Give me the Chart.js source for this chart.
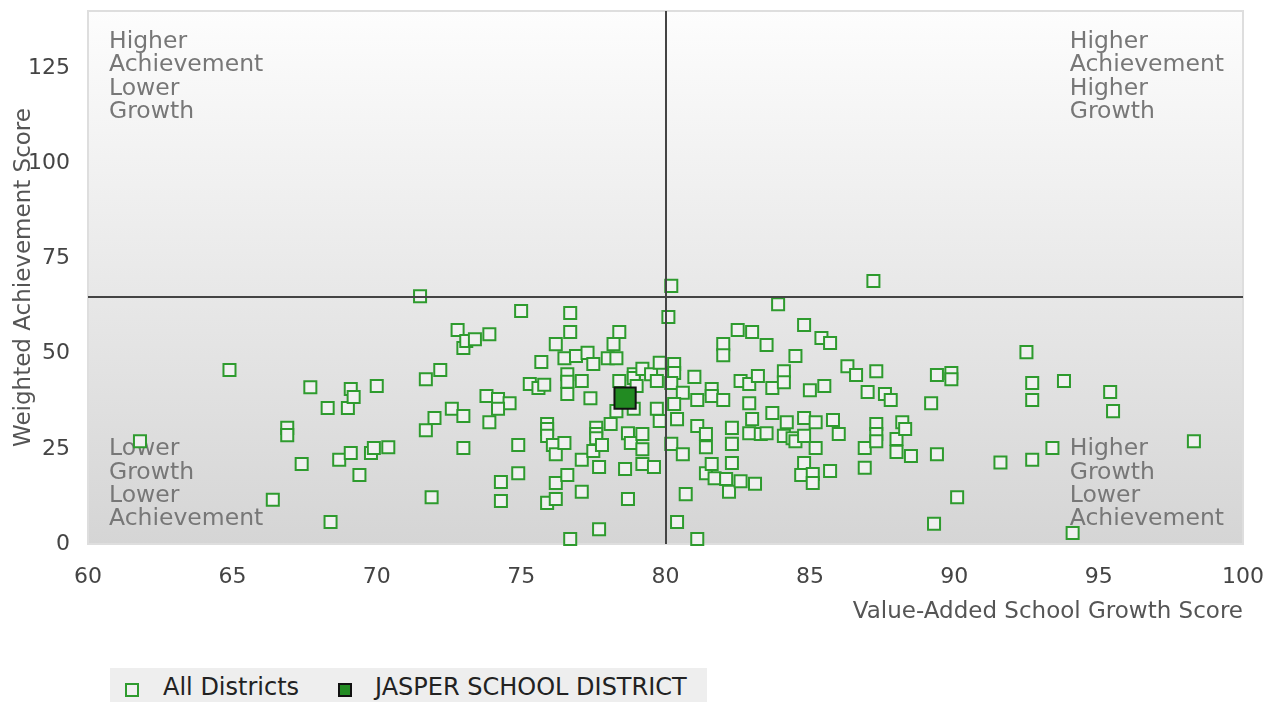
<!DOCTYPE html>
<html>
<head>
<meta charset="utf-8">
<script src="https://cdn.jsdelivr.net/npm/chart.js@4.4.0/dist/chart.umd.min.js"></script>
<style>
  body { margin: 0; background: #fff; font-family: "DejaVu Sans", sans-serif; }
  #wrap { position: relative; width: 1271px; height: 702px; overflow: hidden; }
  #box { position: absolute; left: 0; top: -6px; width: 1271px; height: 654px; }
  #legend { position: absolute; left: 110px; top: 668px; width: 597px; height: 40px; background: #eeeeee; font-size: 24px; color: #222; }
  #legend .sw { position: absolute; top: 15px; width: 10px; height: 10px; }
  #legend .lbl { position: absolute; top: 5px; white-space: nowrap; }
</style>
</head>
<body>
<div id="wrap">
  <div id="box"><canvas id="chart"></canvas></div>
  <div id="legend">
    <span class="sw" style="left:15px; border:2px solid #2e9b2e; background:#f0f0f0;"></span>
    <span class="lbl" style="left:53px;">All Districts</span>
    <span class="sw" style="left:228px; border:2px solid #111; background:#228b22;"></span>
    <span class="lbl" style="left:265px;">JASPER SCHOOL DISTRICT</span>
  </div>
</div>
<script>
// values
const growthScores = [
  61.8, 64.9, 66.4, 66.9, 66.9, 67.4, 67.7, 68.3, 68.4, 68.7,
  69.0, 69.1, 69.2, 69.1, 69.4, 69.8, 69.9, 70.0, 70.4, 71.5,
  71.7, 71.7, 71.9, 72.0, 72.2, 72.6, 72.8, 73.0, 73.1, 73.4,
  73.9, 73.0, 73.0, 73.8, 74.2, 74.6, 74.2, 73.9, 74.3, 74.3,
  74.9, 74.9, 75.0, 75.3, 75.6, 75.8, 75.7, 75.9, 75.9, 75.9,
  75.9, 76.1, 76.2, 76.2, 76.2, 76.2, 76.5, 76.5, 76.6, 76.6,
  76.6, 76.6, 76.7, 76.7, 76.7, 76.9, 77.1, 77.1, 77.1, 77.3,
  77.4, 77.5, 77.5, 77.6, 77.6, 77.6, 77.7, 77.7, 77.8, 78.0,
  78.1, 78.2, 78.3, 78.3, 78.4, 78.4, 78.6, 78.7, 78.7, 78.8,
  78.9, 78.9, 78.9, 79.0, 79.2, 79.2, 79.2, 79.2, 79.5, 79.6,
  79.7, 79.7, 79.8, 79.8, 80.2, 80.1, 80.3, 80.3, 80.2, 80.6,
  80.3, 80.4, 80.2, 80.6, 80.7, 80.4, 81.0, 81.1, 81.1, 81.1,
  81.4, 81.4, 81.4, 81.6, 81.6, 81.6, 81.7, 82.0, 82.0, 82.0,
  82.1, 82.2, 82.3, 82.3, 82.3, 82.5, 82.6, 82.6, 82.9, 82.9,
  82.9, 83.0, 83.0, 83.1, 83.2, 83.3, 83.5, 83.5, 83.7, 83.7,
  83.9, 84.1, 84.1, 84.1, 84.2, 84.4, 84.5, 84.5, 84.7, 84.8,
  84.8, 84.8, 84.8, 85.0, 85.1, 85.1, 85.2, 85.2, 85.4, 85.5,
  85.7, 85.7, 85.8, 86.0, 86.3, 86.6, 86.9, 86.9, 87.0, 87.2,
  87.3, 87.3, 87.3, 87.3, 87.6, 87.8, 88.0, 88.0, 88.2, 88.3,
  88.5, 89.2, 89.3, 89.4, 89.4, 89.9, 89.9, 90.1, 91.6, 92.5,
  92.7, 92.7, 92.7, 93.4, 93.8, 94.1, 95.4, 95.5, 98.3
];
const achievementScores = [
  27.0, 45.7, 11.6, 30.5, 28.6, 21.0, 41.2, 35.7, 5.8, 22.1,
  35.7, 40.7, 38.6, 23.9, 18.1, 23.9, 25.2, 41.5, 25.4, 65.1,
  43.3, 29.9, 12.3, 33.1, 45.7, 35.5, 56.2, 51.5, 53.3, 53.8,
  55.1, 33.6, 25.2, 38.9, 38.1, 37.0, 35.5, 32.0, 16.3, 11.3,
  26.0, 18.6, 61.2, 42.0, 41.0, 41.8, 47.8, 31.5, 30.2, 28.4,
  10.8, 26.0, 52.5, 23.6, 16.0, 11.8, 48.8, 26.5, 44.6, 42.6,
  39.4, 18.1, 60.7, 55.7, 1.3, 49.4, 42.8, 22.1, 13.7, 50.2,
  38.3, 47.3, 24.4, 30.5, 28.9, 27.8, 20.2, 3.9, 26.0, 48.8,
  31.5, 52.5, 48.8, 34.9, 55.7, 42.8, 19.7, 29.1, 11.8, 26.5,
  44.6, 43.6, 35.5, 41.5, 46.0, 28.9, 24.9, 21.0, 44.6, 20.2,
  42.8, 35.5, 47.6, 32.3, 67.8, 59.6, 47.3, 44.9, 42.3, 39.7,
  36.8, 32.8, 26.3, 23.6, 13.1, 5.8, 43.9, 37.8, 31.0, 1.3,
  28.9, 25.4, 18.6, 40.7, 38.9, 21.0, 17.3, 52.5, 49.6, 37.8,
  17.1, 13.7, 30.5, 26.3, 21.3, 56.2, 42.8, 16.5, 42.0, 37.0,
  29.1, 55.7, 32.8, 15.8, 44.1, 28.9, 52.3, 29.1, 41.0, 34.4,
  63.0, 45.4, 42.5, 28.4, 32.0, 27.8, 27.0, 49.4, 18.1, 57.5,
  33.1, 28.4, 21.3, 40.4, 18.4, 16.0, 32.0, 25.2, 54.1, 41.5,
  52.8, 19.2, 32.6, 28.9, 46.7, 44.4, 25.2, 20.0, 39.9, 69.1,
  45.4, 31.5, 28.9, 27.0, 39.4, 37.8, 27.6, 24.2, 32.0, 30.2,
  23.1, 37.0, 5.3, 44.4, 23.6, 44.9, 43.3, 12.3, 21.4, 50.4,
  42.3, 37.8, 22.1, 25.2, 42.8, 2.9, 39.9, 34.9, 27.0
];
const jasperGrowth = [78.6];
const jasperAchievement = [38.3];

const growthSplit = 80;
const achievementSplit = 65;

const xTicks = [60, 65, 70, 75, 80, 85, 90, 95, 100];
const yTicks = [0, 25, 50, 75, 100, 125];

const quadrantLabels = {
  topLeft: ['Higher', 'Achievement', 'Lower', 'Growth'],
  topRight: ['Higher', 'Achievement', 'Higher', 'Growth'],
  bottomLeft: ['Lower', 'Growth', 'Lower', 'Achievement'],
  bottomRight: ['Higher', 'Growth', 'Lower', 'Achievement']
};

const allPoints = growthScores.map((g, i) => ({ x: g, y: achievementScores[i] }));
const jasperPoints = jasperGrowth.map((g, i) => ({ x: g, y: jasperAchievement[i] }));

const FONT = '"DejaVu Sans", sans-serif';

const quadrantPlugin = {
  id: 'quadrants',
  beforeDraw(chart) {
    const { ctx, chartArea: a } = chart;
    const grad = ctx.createLinearGradient(0, a.top, 0, a.bottom);
    grad.addColorStop(0, '#fdfdfd');
    grad.addColorStop(1, '#d5d5d5');
    ctx.save();
    ctx.fillStyle = grad;
    ctx.fillRect(a.left, a.top, a.right - a.left, a.bottom - a.top);
    ctx.strokeStyle = '#dedede';
    ctx.lineWidth = 2;
    ctx.strokeRect(a.left, a.top, a.right - a.left, a.bottom - a.top);
    ctx.restore();
  },
  beforeDatasetsDraw(chart) {
    const { ctx, chartArea: a } = chart;
    const lh = 23.3;
    ctx.save();
    ctx.font = '23.5px ' + FONT;
    ctx.fillStyle = '#777';
    ctx.textBaseline = 'middle';
    ctx.textAlign = 'left';
    const block = (lines, top, alignRight) => {
      const w = Math.max(...lines.map(l => ctx.measureText(l).width));
      const x = alignRight ? a.right - 19 - w : a.left + 21;
      lines.forEach((l, i) => ctx.fillText(l, x, top + i * lh));
    };
    block(quadrantLabels.topLeft, a.top + 31, false);
    block(quadrantLabels.topRight, a.top + 31, true);
    block(quadrantLabels.bottomLeft, a.bottom - 25 - 3 * lh, false);
    block(quadrantLabels.bottomRight, a.bottom - 25 - 3 * lh, true);
    ctx.restore();
  },
  afterDatasetsDraw(chart) {
    const { ctx, chartArea: a, scales } = chart;
    const vx = Math.round(scales.x.getPixelForValue(growthSplit));
    const hy = Math.round(scales.y.getPixelForValue(achievementSplit));
    ctx.save();
    ctx.strokeStyle = '#444';
    ctx.lineWidth = 2;
    ctx.beginPath();
    ctx.moveTo(vx, a.top);
    ctx.lineTo(vx, a.bottom);
    ctx.moveTo(a.left, hy);
    ctx.lineTo(a.right, hy);
    ctx.stroke();
    ctx.restore();
  }
};

new Chart(document.getElementById('chart'), {
  type: 'scatter',
  data: {
    datasets: [
      {
        label: 'JASPER SCHOOL DISTRICT',
        data: jasperPoints,
        pointStyle: 'rect',
        radius: 15,
        hoverRadius: 15,
        backgroundColor: '#228b22',
        borderColor: '#111',
        borderWidth: 2,
        order: 0,
        clip: false
      },
      {
        label: 'All Districts',
        data: allPoints,
        pointStyle: 'rect',
        radius: 8.5,
        hoverRadius: 8.5,
        backgroundColor: '#f0f0f0',
        borderColor: '#2e9b2e',
        borderWidth: 2,
        order: 1,
        clip: false
      }
    ]
  },
  options: {
    responsive: true,
    maintainAspectRatio: false,
    animation: false,
    layout: { padding: { top: 5, right: 28, left: 0, bottom: 0 } },
    plugins: {
      legend: { display: false },
      tooltip: { enabled: false }
    },
    scales: {
      x: {
        type: 'linear',
        min: 60,
        max: 100,
        afterBuildTicks: s => { s.ticks = xTicks.map(v => ({ value: v })); },
        afterFit: s => { s.height = 104; s.paddingLeft = 0; s.paddingRight = 0; },
        grid: { display: false, drawTicks: false },
        border: { display: false },
        ticks: { padding: 20, color: '#444', font: { family: FONT, size: 22 } },
        title: {
          display: true,
          text: 'Value-Added School Growth Score',
          align: 'end',
          color: '#555',
          padding: { top: 4, bottom: 22 },
          font: { family: FONT, size: 23 }
        }
      },
      y: {
        type: 'linear',
        min: 0,
        max: 140,
        afterBuildTicks: s => { s.ticks = yTicks.map(v => ({ value: v })); },
        afterFit: s => { s.width = 88; s.paddingTop = 0; s.paddingBottom = 0; },
        grid: { display: false, drawTicks: false },
        border: { display: false },
        ticks: { padding: 18, color: '#444', font: { family: FONT, size: 22 } },
        title: {
          display: true,
          text: 'Weighted Achievement Score',
          color: '#555',
          padding: { top: 10, bottom: 4 },
          font: { family: FONT, size: 23 }
        }
      }
    }
  },
  plugins: [quadrantPlugin]
});
</script>
</body>
</html>
